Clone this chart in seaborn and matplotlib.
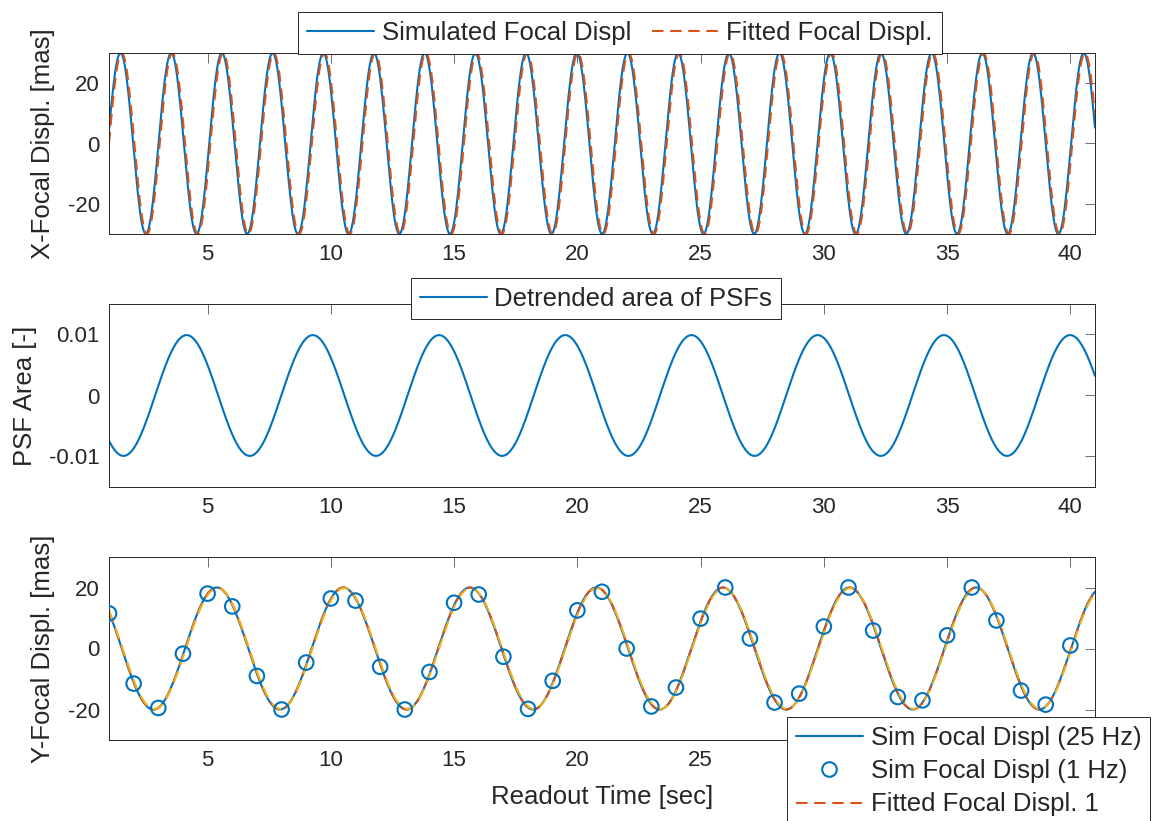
import numpy as np
import pandas as pd
import matplotlib
matplotlib.use("Agg")
import matplotlib.pyplot as plt
from matplotlib.lines import Line2D
import seaborn as sns

# ---------------- data ----------------
time_range = [1, 41]            # readout time span [sec]
sample_rate_hz = 25             # simulated sampling rate
# sinusoid readings: [amplitude, period (s), time of first crest (s)]
x_sim_params = [30.0, 2.0567, 1.466]
x_fit_params = [30.0, 2.0567, 1.514]
psf_params = [0.0099, 5.12, 4.15]
y_sim_params = [20.0, 5.134, 5.369]
y_fit1_params = [20.0, 5.134, 5.38]
y_fit2_params = [19.8, 5.134, 5.40]
# 1 Hz samples of the Y focal displacement
y_1hz_time = list(range(1, 41))
y_1hz_values = [11.5, -11.5, -19.5, -1.7, 18.0, 13.8, -9.0, -20.0, -4.6, 16.4,
                15.7, -6.0, -20.0, -7.7, 15.0, 17.7, -2.7, -19.8, -10.6, 12.5,
                18.6, 0.0, -19.0, -12.8, 9.8, 20.0, 3.3, -17.7, -14.8, 7.2,
                20.0, 5.9, -15.9, -17.0, 4.3, 20.0, 9.2, -13.8, -18.4, 1.0]

x_ticks = [5, 10, 15, 20, 25, 30, 35, 40]
disp_ticks = [-20, 0, 20]
psf_ticks = [-0.01, 0, 0.01]
psf_tick_labels = ["-0.01", "0", "0.01"]

labels_top = ["Simulated Focal Displ", "Fitted Focal Displ."]
labels_mid = ["Detrended area of PSFs"]
labels_bot = ["Sim Focal Displ (25 Hz)", "Sim Focal Displ (1 Hz)",
              "Fitted Focal Displ. 1"]

# ---------------- build frames ----------------
t = np.arange(time_range[0], time_range[1] + 1e-9, 1.0 / sample_rate_hz)


def sinusoid(params, tt):
    amp, period, crest = params
    return amp * np.cos(2 * np.pi * (tt - crest) / period)


df_x = pd.DataFrame({"t": t, "sim": sinusoid(x_sim_params, t), "fit": sinusoid(x_fit_params, t)})
df_p = pd.DataFrame({"t": t, "area": sinusoid(psf_params, t)})
df_y = pd.DataFrame({"t": t, "sim": sinusoid(y_sim_params, t),
                     "fit1": sinusoid(y_fit1_params, t), "fit2": sinusoid(y_fit2_params, t)})
df_1hz = pd.DataFrame({"t": y_1hz_time, "v": y_1hz_values})

# ---------------- style ----------------
sns.set_theme(style="white")
plt.rcParams["font.family"] = ["Liberation Sans", "DejaVu Sans"]
plt.rcParams["axes.unicode_minus"] = False

BLUE = "#0072BD"
RED = "#D95319"
YELLOW = "#EDB120"
DARK = "#262626"
TICK_FS = 16
LAB_FS = 18.5
LW = 1.5
DASH = (0, (5.5, 3.2))

fig = plt.figure(figsize=(11.56, 8.21), dpi=100)
W, H = 1156, 821
left, right = 109 / W, 1095 / W
ax1 = fig.add_axes([left, 1 - 234 / H, right - left, 181 / H])
ax2 = fig.add_axes([left, 1 - 487 / H, right - left, 183 / H])
ax3 = fig.add_axes([left, 1 - 740 / H, right - left, 183 / H])


def style_axes(ax, yticks, ylim):
    ax.set_xlim(time_range)
    ax.set_ylim(ylim)
    ax.set_xticks(x_ticks)
    ax.set_yticks(yticks)
    ax.tick_params(direction="in", top=True, right=True, length=7, width=0.6,
                   color="#555555", labelsize=TICK_FS, labelcolor=DARK)
    ax.tick_params(axis="x", pad=7)
    ax.tick_params(axis="y", pad=6.5)
    for s in ax.spines.values():
        s.set_color(DARK)
        s.set_linewidth(0.7)
    ax.set_xlabel("")
    ax.grid(False)


leg_kw = dict(fontsize=LAB_FS, frameon=True, fancybox=False, framealpha=1,
              edgecolor=DARK, handlelength=2.6, handletextpad=0.3,
              borderpad=0.35, borderaxespad=0)

# ---- top panel ----
sns.lineplot(data=df_x, x="t", y="sim", ax=ax1, color=BLUE, lw=LW,
             estimator=None, sort=False, legend=False)
sns.lineplot(data=df_x, x="t", y="fit", ax=ax1, color=RED, lw=LW, linestyle=DASH,
             estimator=None, sort=False, legend=False)
style_axes(ax1, disp_ticks, (-30, 30))
ax1.set_ylabel("X-Focal Displ. [mas]", fontsize=LAB_FS, color=DARK, labelpad=9)
h_top = [Line2D([], [], color=BLUE, lw=LW), Line2D([], [], color=RED, lw=LW, linestyle=DASH)]
lg1 = fig.legend(h_top, labels_top, loc="center", bbox_to_anchor=(620 / W, 1 - 33 / H),
                 ncol=2, columnspacing=0.8, **leg_kw)
lg1.get_frame().set_linewidth(0.7)

# ---- middle panel ----
sns.lineplot(data=df_p, x="t", y="area", ax=ax2, color=BLUE, lw=LW,
             estimator=None, sort=False, legend=False)
style_axes(ax2, psf_ticks, (-0.015, 0.015))
ax2.set_yticklabels(psf_tick_labels)
ax2.set_ylabel("PSF Area [-]", fontsize=LAB_FS, color=DARK, labelpad=9)
lg2 = fig.legend([Line2D([], [], color=BLUE, lw=LW)], labels_mid, loc="center",
                 bbox_to_anchor=(596 / W, 1 - 298.5 / H), **leg_kw)
lg2.get_frame().set_linewidth(0.7)

# ---- bottom panel ----
sns.lineplot(data=df_y, x="t", y="sim", ax=ax3, color=BLUE, lw=LW,
             estimator=None, sort=False, legend=False)
sns.scatterplot(data=df_1hz, x="t", y="v", ax=ax3, marker="o", s=110,
                facecolor="none", edgecolor=BLUE, linewidth=1.5, legend=False, zorder=3)
sns.lineplot(data=df_y, x="t", y="fit1", ax=ax3, color=RED, lw=LW, linestyle=DASH,
             estimator=None, sort=False, legend=False)
sns.lineplot(data=df_y, x="t", y="fit2", ax=ax3, color=YELLOW, lw=LW, linestyle=DASH,
             estimator=None, sort=False, legend=False)
style_axes(ax3, disp_ticks, (-30, 30))
# tick labels at 30, 35, 40 sit under the legend box in the reference
for lab, val in zip(ax3.get_xticklabels(), x_ticks):
    if val >= 30:
        lab.set_visible(False)
ax3.set_ylabel("Y-Focal Displ. [mas]", fontsize=LAB_FS, color=DARK, labelpad=9)
ax3.set_xlabel("Readout Time [sec]", fontsize=LAB_FS, color=DARK, labelpad=10)
h_bot = [Line2D([], [], color=BLUE, lw=LW),
         Line2D([], [], color=BLUE, lw=0, marker="o", markersize=10.5,
                markerfacecolor="none", markeredgewidth=1.5),
         Line2D([], [], color=RED, lw=LW, linestyle=DASH)]
lg3 = fig.legend(h_bot, labels_bot, loc="upper left", labelspacing=0.36,
                 bbox_to_anchor=(787 / W, 1 - 717 / H), **leg_kw)
lg3.get_frame().set_linewidth(0.7)

fig.savefig("out.png", dpi=100)
